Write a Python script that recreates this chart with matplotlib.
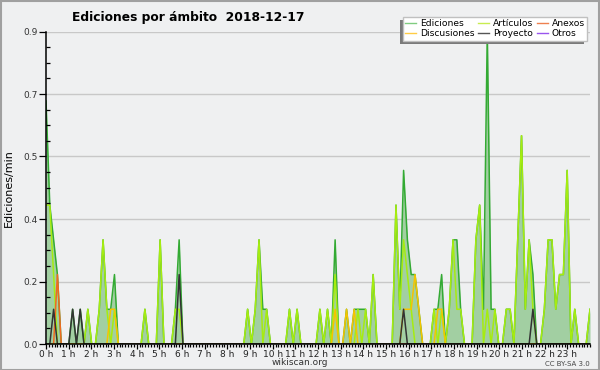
import numpy as np
import matplotlib
matplotlib.use('Agg')
import matplotlib.pyplot as plt
from matplotlib.patches import Rectangle
from matplotlib.lines import Line2D
from matplotlib.ticker import FixedLocator, MultipleLocator

# Edits per minute, 10-minute bins over 2018-12-17
ediciones = [
    .7, .4, .3, .2, 0, 0, 0, .1, 0, .1, 0, .1,
    0, 0, .1, .3, .1, .1, .2, 0, 0, 0, 0, 0,
    0, 0, .1, 0, 0, 0, .3, 0, 0, 0, .1, .3,
    0, 0, 0, 0, 0, 0, 0, 0, 0, 0, 0, 0,
    0, 0, 0, 0, 0, .1, 0, .1, .3, .1, .1, 0,
    0, 0, 0, 0, .1, 0, .1, 0, 0, 0, 0, 0,
    .1, 0, .1, 0, .3, 0, 0, .1, 0, .1, .1, .1,
    .1, 0, .2, 0, 0, 0, 0, 0, .4, .1, .5, .3,
    .2, .2, .1, 0, 0, 0, .1, .1, .2, 0, .1, .3,
    .3, .1, 0, 0, 0, .3, .4, .1, .9, .1, .1, 0,
    0, .1, .1, 0, .3, .6, .1, .3, .2, 0, 0, .1,
    .3, .3, .1, .2, .2, .5, 0, .1, 0, 0, 0, .1,
]
articulos = [
    .4, .4, .2, 0, 0, 0, 0, 0, 0, 0, 0, .1,
    0, 0, .1, .3, .1, 0, .1, 0, 0, 0, 0, 0,
    0, 0, .1, 0, 0, 0, .3, 0, 0, 0, .1, .1,
    0, 0, 0, 0, 0, 0, 0, 0, 0, 0, 0, 0,
    0, 0, 0, 0, 0, .1, 0, .1, .3, 0, .1, 0,
    0, 0, 0, 0, .1, 0, .1, 0, 0, 0, 0, 0,
    .1, 0, .1, 0, .2, 0, 0, 0, 0, 0, .1, 0,
    .1, 0, .2, 0, 0, 0, 0, 0, .4, .1, .3, .2,
    .1, 0, 0, 0, 0, 0, .1, 0, .1, 0, .1, .3,
    .1, .1, 0, 0, 0, .3, .4, 0, .1, 0, .1, 0,
    0, .1, .1, 0, .3, .6, .1, .3, .1, 0, 0, .1,
    .3, .3, .1, .2, .2, .5, 0, .1, 0, 0, 0, .1,
]
anexos = [
    0, 0, 0, .2, 0, 0, 0, 0, 0, 0, 0, 0,
    0, 0, 0, 0, 0, 0, 0, 0, 0, 0, 0, 0,
    0, 0, 0, 0, 0, 0, 0, 0, 0, 0, 0, 0,
    0, 0, 0, 0, 0, 0, 0, 0, 0, 0, 0, 0,
    0, 0, 0, 0, 0, 0, 0, 0, 0, 0, 0, 0,
    0, 0, 0, 0, 0, 0, 0, 0, 0, 0, 0, 0,
    0, 0, 0, 0, 0, 0, 0, 0, 0, 0, 0, 0,
    0, 0, 0, 0, 0, 0, 0, 0, 0, 0, 0, 0,
    0, 0, 0, 0, 0, 0, 0, 0, 0, 0, 0, 0,
    0, 0, 0, 0, 0, 0, 0, 0, 0, 0, 0, 0,
    0, 0, 0, 0, 0, 0, 0, 0, 0, 0, 0, 0,
    0, 0, 0, 0, 0, 0, 0, 0, 0, 0, 0, 0,
]
discusiones = [
    0, 0, 0, 0, 0, 0, 0, 0, 0, 0, 0, 0,
    0, 0, 0, 0, 0, .1, .1, 0, 0, 0, 0, 0,
    0, 0, 0, 0, 0, 0, 0, 0, 0, 0, 0, 0,
    0, 0, 0, 0, 0, 0, 0, 0, 0, 0, 0, 0,
    0, 0, 0, 0, 0, 0, 0, 0, 0, 0, 0, 0,
    0, 0, 0, 0, 0, 0, 0, 0, 0, 0, 0, 0,
    0, 0, 0, 0, .1, 0, 0, .1, 0, .1, 0, 0,
    0, 0, 0, 0, 0, 0, 0, 0, 0, 0, .1, .1,
    .1, .2, .1, 0, 0, 0, 0, .1, .1, 0, 0, 0,
    0, 0, 0, 0, 0, 0, 0, 0, 0, 0, 0, 0,
    0, 0, 0, 0, 0, 0, 0, 0, 0, 0, 0, 0,
    0, 0, 0, 0, 0, 0, 0, 0, 0, 0, 0, 0,
]
proyecto = [
    0, 0, .1, 0, 0, 0, 0, .1, 0, .1, 0, 0,
    0, 0, 0, 0, 0, 0, 0, 0, 0, 0, 0, 0,
    0, 0, 0, 0, 0, 0, 0, 0, 0, 0, 0, .2,
    0, 0, 0, 0, 0, 0, 0, 0, 0, 0, 0, 0,
    0, 0, 0, 0, 0, 0, 0, 0, 0, 0, 0, 0,
    0, 0, 0, 0, 0, 0, 0, 0, 0, 0, 0, 0,
    0, 0, 0, 0, 0, 0, 0, 0, 0, 0, 0, 0,
    0, 0, 0, 0, 0, 0, 0, 0, 0, 0, .1, 0,
    0, 0, 0, 0, 0, 0, 0, 0, 0, 0, 0, 0,
    0, 0, 0, 0, 0, 0, 0, 0, 0, 0, 0, 0,
    0, 0, 0, 0, 0, 0, 0, 0, .1, 0, 0, 0,
    0, 0, 0, 0, 0, 0, 0, 0, 0, 0, 0, 0,
]
otros = [0] * 144

hour_ticks = list(range(24))
hour_labels = [f'{h} h' for h in hour_ticks]
y_ticks = [0, 0.18, 0.36, 0.54, 0.72, 0.9]
y_labels = ['0.0', '0.2', '0.4', '0.5', '0.7', '0.9']

title = 'Ediciones por ámbito  2018-12-17'

BASE = 'DejaVu Sans'
BG = '#eff0f1'

fig = plt.figure(figsize=(6.0, 3.7), dpi=100, facecolor=BG)
W, H = 600, 370
ax = fig.add_axes([46 / W, 1 - 344 / H, (590 - 46) / W, (344 - 31.5) / H])
ax.set_facecolor(BG)

hours = np.linspace(0, 24, len(ediciones))

for yv in y_ticks[1:]:
    ax.axhline(yv, color='#c8c8c8', lw=1, zorder=0.5)

ax.fill_between(hours, ediciones, 0, color='#a2cfa2', lw=0, zorder=1)
l_ed, = ax.plot(hours, ediciones, color='#33aa33', lw=1.1, zorder=2)
l_ar, = ax.plot(hours, articulos, color='#a6ec10', lw=1.1, zorder=2.1)
l_an, = ax.plot(hours, anexos, color='#f06a20', lw=1.1, zorder=2.2)
l_di, = ax.plot(hours, discusiones, color='#f5c400', lw=1.1, zorder=2.2)
l_pr, = ax.plot(hours, proyecto, color='#333333', lw=1.1, zorder=2.3)
l_ot, = ax.plot(hours, otros, color='#9a3cf0', lw=1.1, zorder=1.5)

ax.set_xlim(0, 24)
ax.set_ylim(0, 0.9)

ax.xaxis.set_major_locator(FixedLocator(hour_ticks))
ax.set_xticklabels(hour_labels)
ax.xaxis.set_minor_locator(MultipleLocator(1 / 8))
ax.yaxis.set_major_locator(FixedLocator(y_ticks))
ax.set_yticklabels(y_labels)
ax.yaxis.set_minor_locator(MultipleLocator(0.045))

ax.tick_params(axis='x', which='major', direction='out', length=3.5, width=0.9,
               labelsize=6.5, pad=0.5, colors='black', labelcolor='#222222')
ax.tick_params(axis='x', which='minor', direction='out', length=2.5, width=0.9)
ax.tick_params(axis='y', which='major', direction='out', length=5, width=0.9,
               labelsize=6.5, pad=1, labelcolor='#333333')
ax.tick_params(axis='y', which='minor', direction='in', length=3, width=0.9)
for lab in ax.get_xticklabels() + ax.get_yticklabels():
    lab.set_family(BASE)

ax.set_axisbelow(False)
for s in ['top', 'right']:
    ax.spines[s].set_visible(False)
for s in ['left', 'bottom']:
    ax.spines[s].set_color('black')
    ax.spines[s].set_linewidth(1.1)
    ax.spines[s].set_zorder(10)

ax.set_ylabel('Ediciones/min', fontsize=8, labelpad=7, family=BASE)

fig.text(188 / W, 1 - 17 / H, title, ha='center', va='center',
         fontsize=8.8, fontweight='bold', family=BASE)
fig.text(300 / W, 1 - 362.5 / H, 'wikiscan.org', ha='center', va='center',
         fontsize=6.5, color='#333333', family=BASE)
fig.text(590 / W, 1 - 363.5 / H, 'CC BY-SA 3.0', ha='right', va='center',
         fontsize=5, color='#444444', family=BASE)

labels = ['Ediciones', 'Discusiones', 'Artículos', 'Proyecto', 'Anexos', 'Otros']
leg_cols = ['#80cc80', '#ffcc44', '#c8ec50', '#555555', '#ee8050', '#9955ee']
proxies = [Line2D([], [], color=c, lw=1) for c in leg_cols]
leg = fig.legend(proxies, labels, ncol=3, loc='upper right',
                 bbox_to_anchor=(592 / W, 1 - 12 / H), bbox_transform=fig.transFigure,
                 frameon=True, fancybox=False, framealpha=1,
                 facecolor='white', edgecolor='#c0c0c0', handlelength=1.2,
                 handletextpad=0.4, columnspacing=0.4, labelspacing=0.05,
                 borderpad=0.3, prop=dict(size=6.6, family=BASE))
leg.set_zorder(20)

fig.canvas.draw()
bb = leg.get_window_extent()
shadow = Rectangle((bb.x0 - 3, bb.y0 - 3), bb.width, bb.height,
                   transform=None, facecolor='#7a7a7a', edgecolor='none', zorder=19)
fig.add_artist(shadow)

border = Rectangle((0.5 / W, 0.5 / H), 1 - 1.5 / W, 1 - 1.5 / H,
                   transform=fig.transFigure, fill=False, edgecolor='#a0a0a0',
                   lw=1.5, zorder=30)
fig.add_artist(border)

fig.savefig('out.png', dpi=100, facecolor=BG)
